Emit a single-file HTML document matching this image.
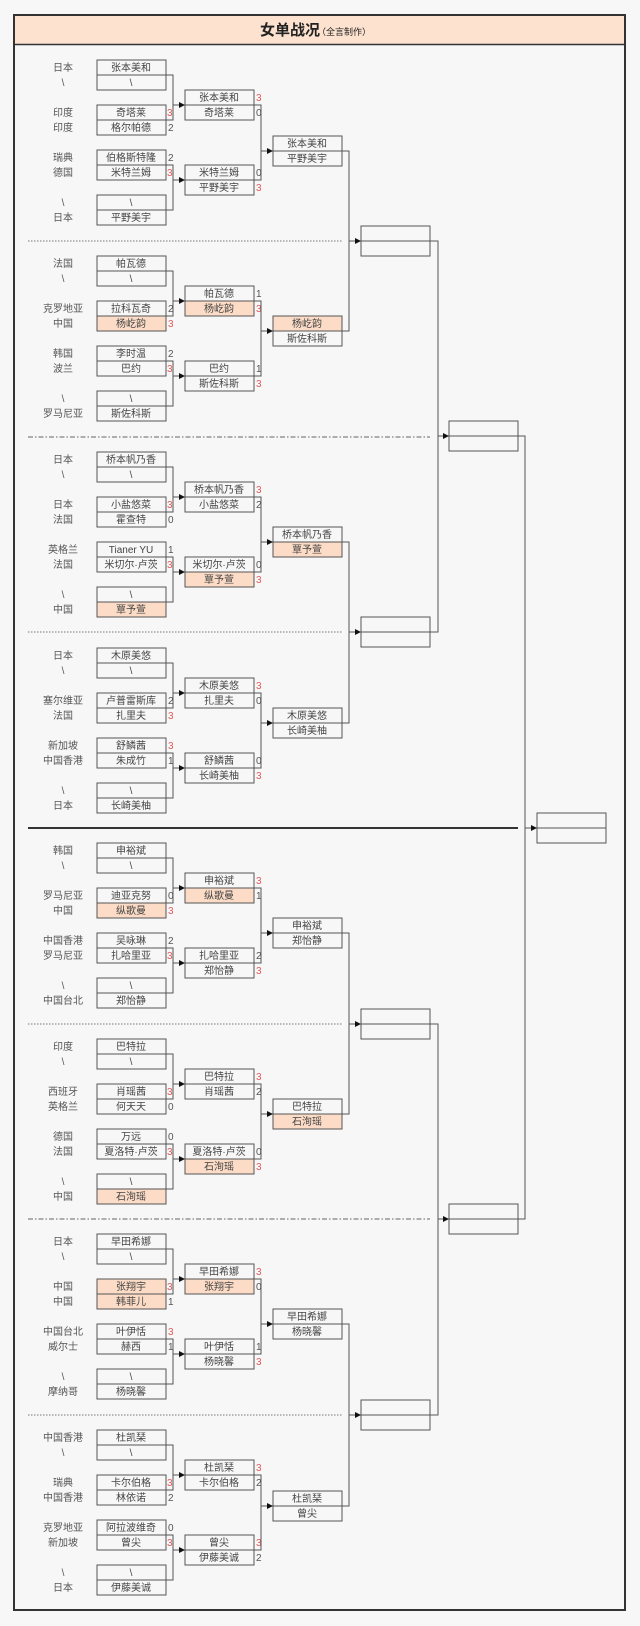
<!DOCTYPE html>
<html><head><meta charset="utf-8"><style>
html,body{margin:0;padding:0;background:#f7f7f7;}
svg{display:block;font-family:"Liberation Sans","Noto Sans CJK SC",sans-serif;}
.b{fill:#f7f7f7;stroke:#555;stroke-width:1}
.h{fill:#fcdcc6;stroke:#555;stroke-width:1}
.e{fill:none;stroke:#555;stroke-width:1}
text{font-size:10px;fill:#444;text-anchor:middle}
.c{fill:#555}
.s{text-anchor:start;fill:#555}
.r{text-anchor:start;fill:#e05a5a}
.l{fill:none;stroke:#555;stroke-width:1}
.a{fill:#111}
</style></head><body>
<svg width="640" height="1626" viewBox="0 0 640 1626" xmlns="http://www.w3.org/2000/svg">
<rect x="14" y="15" width="611" height="1595" fill="#f7f7f7" stroke="#333" stroke-width="2"/>
<rect x="15" y="16" width="609" height="28" fill="#fde2cf"/>
<line x1="14" y1="44.5" x2="625" y2="44.5" stroke="#333" stroke-width="1.5"/>
<text x="290" y="35" style="font-size:15px;font-weight:bold;fill:#222">女单战况</text>
<text x="344" y="35" style="font-size:9px;fill:#222">（全言制作）</text>

<!-- separators -->
<line x1="28" y1="241" x2="342" y2="241" stroke="#777" stroke-dasharray="1.5,1.5"/>
<line x1="28" y1="437" x2="430" y2="437" stroke="#666" stroke-dasharray="5,2,1.5,2"/>
<line x1="28" y1="632" x2="342" y2="632" stroke="#777" stroke-dasharray="1.5,1.5"/>
<line x1="28" y1="828" x2="518" y2="828" stroke="#333" stroke-width="2"/>
<line x1="28" y1="1024" x2="342" y2="1024" stroke="#777" stroke-dasharray="1.5,1.5"/>
<line x1="28" y1="1219" x2="430" y2="1219" stroke="#666" stroke-dasharray="5,2,1.5,2"/>
<line x1="28" y1="1415" x2="342" y2="1415" stroke="#777" stroke-dasharray="1.5,1.5"/>

<!-- later rounds -->
<polyline class="l" points="342,151 349,151 349,331 342,331"/>
<polyline class="l" points="342,542 349,542 349,723 342,723"/>
<polyline class="l" points="342,933 349,933 349,1114 342,1114"/>
<polyline class="l" points="342,1324 349,1324 349,1506 342,1506"/>
<line class="l" x1="349" y1="241" x2="361" y2="241"/><polygon class="a" points="355,238 361,241 355,244"/>
<line class="l" x1="349" y1="632" x2="361" y2="632"/><polygon class="a" points="355,629 361,632 355,635"/>
<line class="l" x1="349" y1="1024" x2="361" y2="1024"/><polygon class="a" points="355,1021 361,1024 355,1027"/>
<line class="l" x1="349" y1="1415" x2="361" y2="1415"/><polygon class="a" points="355,1412 361,1415 355,1418"/>
<rect class="b" x="361" y="226" width="69" height="15"/><rect class="b" x="361" y="241" width="69" height="15"/>
<rect class="b" x="361" y="617" width="69" height="15"/><rect class="b" x="361" y="632" width="69" height="15"/>
<rect class="b" x="361" y="1009" width="69" height="15"/><rect class="b" x="361" y="1024" width="69" height="15"/>
<rect class="b" x="361" y="1400" width="69" height="15"/><rect class="b" x="361" y="1415" width="69" height="15"/>
<polyline class="l" points="430,241 438,241 438,632 430,632"/>
<polyline class="l" points="430,1024 438,1024 438,1415 430,1415"/>
<line class="l" x1="438" y1="436" x2="449" y2="436"/><polygon class="a" points="443,433 449,436 443,439"/>
<line class="l" x1="438" y1="1219" x2="449" y2="1219"/><polygon class="a" points="443,1216 449,1219 443,1222"/>
<rect class="b" x="449" y="421" width="69" height="15"/><rect class="b" x="449" y="436" width="69" height="15"/>
<rect class="b" x="449" y="1204" width="69" height="15"/><rect class="b" x="449" y="1219" width="69" height="15"/>
<polyline class="l" points="518,436 525,436 525,1219 518,1219"/>
<line class="l" x1="525" y1="828" x2="537" y2="828"/><polygon class="a" points="531,825 537,828 531,831"/>
<rect class="b" x="537" y="813" width="69" height="15"/><rect class="b" x="537" y="828" width="69" height="15"/>

<!-- GROUP 1 -->
<g transform="translate(0,60)">
<text class="c" x="63" y="11">日本</text><text class="c" x="63" y="26">\</text>
<text class="c" x="63" y="56">印度</text><text class="c" x="63" y="71">印度</text>
<text class="c" x="63" y="101">瑞典</text><text class="c" x="63" y="116">德国</text>
<text class="c" x="63" y="146">\</text><text class="c" x="63" y="161">日本</text>
<rect class="b" x="97" y="0" width="69" height="15"/><text x="131" y="11">张本美和</text>
<rect class="b" x="97" y="15" width="69" height="15"/><text x="131" y="26">\</text>
<rect class="b" x="97" y="45" width="69" height="15"/><text x="131" y="56">奇塔莱</text><text class="r" x="167" y="56">3</text>
<rect class="b" x="97" y="60" width="69" height="15"/><text x="131" y="71">格尔帕德</text><text class="s" x="168" y="71">2</text>
<rect class="b" x="97" y="90" width="69" height="15"/><text x="131" y="101">伯格斯特隆</text><text class="s" x="168" y="101">2</text>
<rect class="b" x="97" y="105" width="69" height="15"/><text x="131" y="116">米特兰姆</text><text class="r" x="167" y="116">3</text>
<rect class="b" x="97" y="135" width="69" height="15"/><text x="131" y="146">\</text>
<rect class="b" x="97" y="150" width="69" height="15"/><text x="131" y="161">平野美宇</text>
<polyline class="l" points="166,15 173,15 173,60 166,60"/><line class="l" x1="173" y1="45" x2="185" y2="45"/><polygon class="a" points="179,42 185,45 179,48"/>
<polyline class="l" points="166,105 173,105 173,150 166,150"/><line class="l" x1="173" y1="120" x2="185" y2="120"/><polygon class="a" points="179,117 185,120 179,123"/>
<rect class="b" x="185" y="30" width="69" height="15"/><text x="219" y="41">张本美和</text><text class="r" x="256" y="41">3</text>
<rect class="b" x="185" y="45" width="69" height="15"/><text x="219" y="56">奇塔莱</text><text class="s" x="256" y="56">0</text>
<rect class="b" x="185" y="105" width="69" height="15"/><text x="219" y="116">米特兰姆</text><text class="s" x="256" y="116">0</text>
<rect class="b" x="185" y="120" width="69" height="15"/><text x="219" y="131">平野美宇</text><text class="r" x="256" y="131">3</text>
<polyline class="l" points="254,45 261,45 261,120 254,120"/><line class="l" x1="261" y1="91" x2="273" y2="91"/><polygon class="a" points="267,88 273,91 267,94"/>
<rect class="b" x="273" y="76" width="69" height="15"/><text x="307" y="87">张本美和</text>
<rect class="b" x="273" y="91" width="69" height="15"/><text x="307" y="102">平野美宇</text>
</g>

<!-- GROUP 2 -->
<g transform="translate(0,256)">
<text class="c" x="63" y="11">法国</text><text class="c" x="63" y="26">\</text>
<text class="c" x="63" y="56">克罗地亚</text><text class="c" x="63" y="71">中国</text>
<text class="c" x="63" y="101">韩国</text><text class="c" x="63" y="116">波兰</text>
<text class="c" x="63" y="146">\</text><text class="c" x="63" y="161">罗马尼亚</text>
<rect class="b" x="97" y="0" width="69" height="15"/><text x="131" y="11">帕瓦德</text>
<rect class="b" x="97" y="15" width="69" height="15"/><text x="131" y="26">\</text>
<rect class="b" x="97" y="45" width="69" height="15"/><text x="131" y="56">拉科瓦奇</text><text class="s" x="168" y="56">2</text>
<rect class="h" x="97" y="60" width="69" height="15"/><text x="131" y="71">杨屹韵</text><text class="r" x="168" y="71">3</text>
<rect class="b" x="97" y="90" width="69" height="15"/><text x="131" y="101">李时温</text><text class="s" x="168" y="101">2</text>
<rect class="b" x="97" y="105" width="69" height="15"/><text x="131" y="116">巴约</text><text class="r" x="167" y="116">3</text>
<rect class="b" x="97" y="135" width="69" height="15"/><text x="131" y="146">\</text>
<rect class="b" x="97" y="150" width="69" height="15"/><text x="131" y="161">斯佐科斯</text>
<polyline class="l" points="166,15 173,15 173,60 166,60"/><line class="l" x1="173" y1="45" x2="185" y2="45"/><polygon class="a" points="179,42 185,45 179,48"/>
<polyline class="l" points="166,105 173,105 173,150 166,150"/><line class="l" x1="173" y1="120" x2="185" y2="120"/><polygon class="a" points="179,117 185,120 179,123"/>
<rect class="b" x="185" y="30" width="69" height="15"/><text x="219" y="41">帕瓦德</text><text class="s" x="256" y="41">1</text>
<rect class="h" x="185" y="45" width="69" height="15"/><text x="219" y="56">杨屹韵</text><text class="r" x="256" y="56">3</text>
<rect class="b" x="185" y="105" width="69" height="15"/><text x="219" y="116">巴约</text><text class="s" x="256" y="116">1</text>
<rect class="b" x="185" y="120" width="69" height="15"/><text x="219" y="131">斯佐科斯</text><text class="r" x="256" y="131">3</text>
<polyline class="l" points="254,45 261,45 261,120 254,120"/><line class="l" x1="261" y1="75" x2="273" y2="75"/><polygon class="a" points="267,72 273,75 267,78"/>
<rect class="h" x="273" y="60" width="69" height="15"/><text x="307" y="71">杨屹韵</text>
<rect class="b" x="273" y="75" width="69" height="15"/><text x="307" y="86">斯佐科斯</text>
</g>

<!-- GROUP 3 -->
<g transform="translate(0,452)">
<text class="c" x="63" y="11">日本</text><text class="c" x="63" y="26">\</text>
<text class="c" x="63" y="56">日本</text><text class="c" x="63" y="71">法国</text>
<text class="c" x="63" y="101">英格兰</text><text class="c" x="63" y="116">法国</text>
<text class="c" x="63" y="146">\</text><text class="c" x="63" y="161">中国</text>
<rect class="b" x="97" y="0" width="69" height="15"/><text x="131" y="11">桥本帆乃香</text>
<rect class="b" x="97" y="15" width="69" height="15"/><text x="131" y="26">\</text>
<rect class="b" x="97" y="45" width="69" height="15"/><text x="131" y="56">小盐悠菜</text><text class="r" x="167" y="56">3</text>
<rect class="b" x="97" y="60" width="69" height="15"/><text x="131" y="71">霍查特</text><text class="s" x="168" y="71">0</text>
<rect class="b" x="97" y="90" width="69" height="15"/><text x="131" y="101">Tianer YU</text><text class="s" x="168" y="101">1</text>
<rect class="b" x="97" y="105" width="69" height="15"/><text x="131" y="116">米切尔·卢茨</text><text class="r" x="167" y="116">3</text>
<rect class="b" x="97" y="135" width="69" height="15"/><text x="131" y="146">\</text>
<rect class="h" x="97" y="150" width="69" height="15"/><text x="131" y="161">覃予萱</text>
<polyline class="l" points="166,15 173,15 173,60 166,60"/><line class="l" x1="173" y1="45" x2="185" y2="45"/><polygon class="a" points="179,42 185,45 179,48"/>
<polyline class="l" points="166,105 173,105 173,150 166,150"/><line class="l" x1="173" y1="120" x2="185" y2="120"/><polygon class="a" points="179,117 185,120 179,123"/>
<rect class="b" x="185" y="30" width="69" height="15"/><text x="219" y="41">桥本帆乃香</text><text class="r" x="256" y="41">3</text>
<rect class="b" x="185" y="45" width="69" height="15"/><text x="219" y="56">小盐悠菜</text><text class="s" x="256" y="56">2</text>
<rect class="b" x="185" y="105" width="69" height="15"/><text x="219" y="116">米切尔·卢茨</text><text class="s" x="256" y="116">0</text>
<rect class="h" x="185" y="120" width="69" height="15"/><text x="219" y="131">覃予萱</text><text class="r" x="256" y="131">3</text>
<polyline class="l" points="254,45 261,45 261,120 254,120"/><line class="l" x1="261" y1="90" x2="273" y2="90"/><polygon class="a" points="267,87 273,90 267,93"/>
<rect class="b" x="273" y="75" width="69" height="15"/><text x="307" y="86">桥本帆乃香</text>
<rect class="h" x="273" y="90" width="69" height="15"/><text x="307" y="101">覃予萱</text>
</g>

<!-- GROUP 4 -->
<g transform="translate(0,648)">
<text class="c" x="63" y="11">日本</text><text class="c" x="63" y="26">\</text>
<text class="c" x="63" y="56">塞尔维亚</text><text class="c" x="63" y="71">法国</text>
<text class="c" x="63" y="101">新加坡</text><text class="c" x="63" y="116">中国香港</text>
<text class="c" x="63" y="146">\</text><text class="c" x="63" y="161">日本</text>
<rect class="b" x="97" y="0" width="69" height="15"/><text x="131" y="11">木原美悠</text>
<rect class="b" x="97" y="15" width="69" height="15"/><text x="131" y="26">\</text>
<rect class="b" x="97" y="45" width="69" height="15"/><text x="131" y="56">卢普雷斯库</text><text class="s" x="168" y="56">2</text>
<rect class="b" x="97" y="60" width="69" height="15"/><text x="131" y="71">扎里夫</text><text class="r" x="168" y="71">3</text>
<rect class="b" x="97" y="90" width="69" height="15"/><text x="131" y="101">舒鳞茜</text><text class="r" x="168" y="101">3</text>
<rect class="b" x="97" y="105" width="69" height="15"/><text x="131" y="116">朱成竹</text><text class="s" x="168" y="116">1</text>
<rect class="b" x="97" y="135" width="69" height="15"/><text x="131" y="146">\</text>
<rect class="b" x="97" y="150" width="69" height="15"/><text x="131" y="161">长崎美柚</text>
<polyline class="l" points="166,15 173,15 173,60 166,60"/><line class="l" x1="173" y1="45" x2="185" y2="45"/><polygon class="a" points="179,42 185,45 179,48"/>
<polyline class="l" points="166,105 173,105 173,150 166,150"/><line class="l" x1="173" y1="120" x2="185" y2="120"/><polygon class="a" points="179,117 185,120 179,123"/>
<rect class="b" x="185" y="30" width="69" height="15"/><text x="219" y="41">木原美悠</text><text class="r" x="256" y="41">3</text>
<rect class="b" x="185" y="45" width="69" height="15"/><text x="219" y="56">扎里夫</text><text class="s" x="256" y="56">0</text>
<rect class="b" x="185" y="105" width="69" height="15"/><text x="219" y="116">舒鳞茜</text><text class="s" x="256" y="116">0</text>
<rect class="b" x="185" y="120" width="69" height="15"/><text x="219" y="131">长崎美柚</text><text class="r" x="256" y="131">3</text>
<polyline class="l" points="254,45 261,45 261,120 254,120"/><line class="l" x1="261" y1="75" x2="273" y2="75"/><polygon class="a" points="267,72 273,75 267,78"/>
<rect class="b" x="273" y="60" width="69" height="15"/><text x="307" y="71">木原美悠</text>
<rect class="b" x="273" y="75" width="69" height="15"/><text x="307" y="86">长崎美柚</text>
</g>

<!-- GROUP 5 -->
<g transform="translate(0,843)">
<text class="c" x="63" y="11">韩国</text><text class="c" x="63" y="26">\</text>
<text class="c" x="63" y="56">罗马尼亚</text><text class="c" x="63" y="71">中国</text>
<text class="c" x="63" y="101">中国香港</text><text class="c" x="63" y="116">罗马尼亚</text>
<text class="c" x="63" y="146">\</text><text class="c" x="63" y="161">中国台北</text>
<rect class="b" x="97" y="0" width="69" height="15"/><text x="131" y="11">申裕斌</text>
<rect class="b" x="97" y="15" width="69" height="15"/><text x="131" y="26">\</text>
<rect class="b" x="97" y="45" width="69" height="15"/><text x="131" y="56">迪亚克努</text><text class="s" x="168" y="56">0</text>
<rect class="h" x="97" y="60" width="69" height="15"/><text x="131" y="71">纵歌曼</text><text class="r" x="168" y="71">3</text>
<rect class="b" x="97" y="90" width="69" height="15"/><text x="131" y="101">吴咏琳</text><text class="s" x="168" y="101">2</text>
<rect class="b" x="97" y="105" width="69" height="15"/><text x="131" y="116">扎哈里亚</text><text class="r" x="167" y="116">3</text>
<rect class="b" x="97" y="135" width="69" height="15"/><text x="131" y="146">\</text>
<rect class="b" x="97" y="150" width="69" height="15"/><text x="131" y="161">郑怡静</text>
<polyline class="l" points="166,15 173,15 173,60 166,60"/><line class="l" x1="173" y1="45" x2="185" y2="45"/><polygon class="a" points="179,42 185,45 179,48"/>
<polyline class="l" points="166,105 173,105 173,150 166,150"/><line class="l" x1="173" y1="120" x2="185" y2="120"/><polygon class="a" points="179,117 185,120 179,123"/>
<rect class="b" x="185" y="30" width="69" height="15"/><text x="219" y="41">申裕斌</text><text class="r" x="256" y="41">3</text>
<rect class="h" x="185" y="45" width="69" height="15"/><text x="219" y="56">纵歌曼</text><text class="s" x="256" y="56">1</text>
<rect class="b" x="185" y="105" width="69" height="15"/><text x="219" y="116">扎哈里亚</text><text class="s" x="256" y="116">2</text>
<rect class="b" x="185" y="120" width="69" height="15"/><text x="219" y="131">郑怡静</text><text class="r" x="256" y="131">3</text>
<polyline class="l" points="254,45 261,45 261,120 254,120"/><line class="l" x1="261" y1="90" x2="273" y2="90"/><polygon class="a" points="267,87 273,90 267,93"/>
<rect class="b" x="273" y="75" width="69" height="15"/><text x="307" y="86">申裕斌</text>
<rect class="b" x="273" y="90" width="69" height="15"/><text x="307" y="101">郑怡静</text>
</g>

<!-- GROUP 6 -->
<g transform="translate(0,1039)">
<text class="c" x="63" y="11">印度</text><text class="c" x="63" y="26">\</text>
<text class="c" x="63" y="56">西班牙</text><text class="c" x="63" y="71">英格兰</text>
<text class="c" x="63" y="101">德国</text><text class="c" x="63" y="116">法国</text>
<text class="c" x="63" y="146">\</text><text class="c" x="63" y="161">中国</text>
<rect class="b" x="97" y="0" width="69" height="15"/><text x="131" y="11">巴特拉</text>
<rect class="b" x="97" y="15" width="69" height="15"/><text x="131" y="26">\</text>
<rect class="b" x="97" y="45" width="69" height="15"/><text x="131" y="56">肖瑶茜</text><text class="r" x="167" y="56">3</text>
<rect class="b" x="97" y="60" width="69" height="15"/><text x="131" y="71">何天天</text><text class="s" x="168" y="71">0</text>
<rect class="b" x="97" y="90" width="69" height="15"/><text x="131" y="101">万远</text><text class="s" x="168" y="101">0</text>
<rect class="b" x="97" y="105" width="69" height="15"/><text x="131" y="116">夏洛特·卢茨</text><text class="r" x="167" y="116">3</text>
<rect class="b" x="97" y="135" width="69" height="15"/><text x="131" y="146">\</text>
<rect class="h" x="97" y="150" width="69" height="15"/><text x="131" y="161">石洵瑶</text>
<polyline class="l" points="166,15 173,15 173,60 166,60"/><line class="l" x1="173" y1="45" x2="185" y2="45"/><polygon class="a" points="179,42 185,45 179,48"/>
<polyline class="l" points="166,105 173,105 173,150 166,150"/><line class="l" x1="173" y1="120" x2="185" y2="120"/><polygon class="a" points="179,117 185,120 179,123"/>
<rect class="b" x="185" y="30" width="69" height="15"/><text x="219" y="41">巴特拉</text><text class="r" x="256" y="41">3</text>
<rect class="b" x="185" y="45" width="69" height="15"/><text x="219" y="56">肖瑶茜</text><text class="s" x="256" y="56">2</text>
<rect class="b" x="185" y="105" width="69" height="15"/><text x="219" y="116">夏洛特·卢茨</text><text class="s" x="256" y="116">0</text>
<rect class="h" x="185" y="120" width="69" height="15"/><text x="219" y="131">石洵瑶</text><text class="r" x="256" y="131">3</text>
<polyline class="l" points="254,45 261,45 261,120 254,120"/><line class="l" x1="261" y1="75" x2="273" y2="75"/><polygon class="a" points="267,72 273,75 267,78"/>
<rect class="b" x="273" y="60" width="69" height="15"/><text x="307" y="71">巴特拉</text>
<rect class="h" x="273" y="75" width="69" height="15"/><text x="307" y="86">石洵瑶</text>
</g>

<!-- GROUP 7 -->
<g transform="translate(0,1234)">
<text class="c" x="63" y="11">日本</text><text class="c" x="63" y="26">\</text>
<text class="c" x="63" y="56">中国</text><text class="c" x="63" y="71">中国</text>
<text class="c" x="63" y="101">中国台北</text><text class="c" x="63" y="116">威尔士</text>
<text class="c" x="63" y="146">\</text><text class="c" x="63" y="161">摩纳哥</text>
<rect class="b" x="97" y="0" width="69" height="15"/><text x="131" y="11">早田希娜</text>
<rect class="b" x="97" y="15" width="69" height="15"/><text x="131" y="26">\</text>
<rect class="h" x="97" y="45" width="69" height="15"/><text x="131" y="56">张翔宇</text><text class="r" x="167" y="56">3</text>
<rect class="h" x="97" y="60" width="69" height="15"/><text x="131" y="71">韩菲儿</text><text class="s" x="168" y="71">1</text>
<rect class="b" x="97" y="90" width="69" height="15"/><text x="131" y="101">叶伊恬</text><text class="r" x="168" y="101">3</text>
<rect class="b" x="97" y="105" width="69" height="15"/><text x="131" y="116">赫西</text><text class="s" x="168" y="116">1</text>
<rect class="b" x="97" y="135" width="69" height="15"/><text x="131" y="146">\</text>
<rect class="b" x="97" y="150" width="69" height="15"/><text x="131" y="161">杨晓馨</text>
<polyline class="l" points="166,15 173,15 173,60 166,60"/><line class="l" x1="173" y1="45" x2="185" y2="45"/><polygon class="a" points="179,42 185,45 179,48"/>
<polyline class="l" points="166,105 173,105 173,150 166,150"/><line class="l" x1="173" y1="120" x2="185" y2="120"/><polygon class="a" points="179,117 185,120 179,123"/>
<rect class="b" x="185" y="30" width="69" height="15"/><text x="219" y="41">早田希娜</text><text class="r" x="256" y="41">3</text>
<rect class="h" x="185" y="45" width="69" height="15"/><text x="219" y="56">张翔宇</text><text class="s" x="256" y="56">0</text>
<rect class="b" x="185" y="105" width="69" height="15"/><text x="219" y="116">叶伊恬</text><text class="s" x="256" y="116">1</text>
<rect class="b" x="185" y="120" width="69" height="15"/><text x="219" y="131">杨晓馨</text><text class="r" x="256" y="131">3</text>
<polyline class="l" points="254,45 261,45 261,120 254,120"/><line class="l" x1="261" y1="90" x2="273" y2="90"/><polygon class="a" points="267,87 273,90 267,93"/>
<rect class="b" x="273" y="75" width="69" height="15"/><text x="307" y="86">早田希娜</text>
<rect class="b" x="273" y="90" width="69" height="15"/><text x="307" y="101">杨晓馨</text>
</g>

<!-- GROUP 8 -->
<g transform="translate(0,1430)">
<text class="c" x="63" y="11">中国香港</text><text class="c" x="63" y="26">\</text>
<text class="c" x="63" y="56">瑞典</text><text class="c" x="63" y="71">中国香港</text>
<text class="c" x="63" y="101">克罗地亚</text><text class="c" x="63" y="116">新加坡</text>
<text class="c" x="63" y="146">\</text><text class="c" x="63" y="161">日本</text>
<rect class="b" x="97" y="0" width="69" height="15"/><text x="131" y="11">杜凯琹</text>
<rect class="b" x="97" y="15" width="69" height="15"/><text x="131" y="26">\</text>
<rect class="b" x="97" y="45" width="69" height="15"/><text x="131" y="56">卡尔伯格</text><text class="r" x="167" y="56">3</text>
<rect class="b" x="97" y="60" width="69" height="15"/><text x="131" y="71">林依诺</text><text class="s" x="168" y="71">2</text>
<rect class="b" x="97" y="90" width="69" height="15"/><text x="131" y="101">阿拉波维奇</text><text class="s" x="168" y="101">0</text>
<rect class="b" x="97" y="105" width="69" height="15"/><text x="131" y="116">曾尖</text><text class="r" x="167" y="116">3</text>
<rect class="b" x="97" y="135" width="69" height="15"/><text x="131" y="146">\</text>
<rect class="b" x="97" y="150" width="69" height="15"/><text x="131" y="161">伊藤美诚</text>
<polyline class="l" points="166,15 173,15 173,60 166,60"/><line class="l" x1="173" y1="45" x2="185" y2="45"/><polygon class="a" points="179,42 185,45 179,48"/>
<polyline class="l" points="166,105 173,105 173,150 166,150"/><line class="l" x1="173" y1="120" x2="185" y2="120"/><polygon class="a" points="179,117 185,120 179,123"/>
<rect class="b" x="185" y="30" width="69" height="15"/><text x="219" y="41">杜凯琹</text><text class="r" x="256" y="41">3</text>
<rect class="b" x="185" y="45" width="69" height="15"/><text x="219" y="56">卡尔伯格</text><text class="s" x="256" y="56">2</text>
<rect class="b" x="185" y="105" width="69" height="15"/><text x="219" y="116">曾尖</text><text class="r" x="256" y="116">3</text>
<rect class="b" x="185" y="120" width="69" height="15"/><text x="219" y="131">伊藤美诚</text><text class="s" x="256" y="131">2</text>
<polyline class="l" points="254,45 261,45 261,120 254,120"/><line class="l" x1="261" y1="76" x2="273" y2="76"/><polygon class="a" points="267,73 273,76 267,79"/>
<rect class="b" x="273" y="61" width="69" height="15"/><text x="307" y="72">杜凯琹</text>
<rect class="b" x="273" y="76" width="69" height="15"/><text x="307" y="87">曾尖</text>
</g>
</svg>
</body></html>
